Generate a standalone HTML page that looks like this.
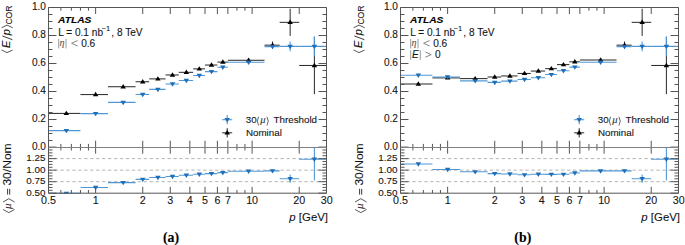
<!DOCTYPE html>
<html><head><meta charset="utf-8"><style>html,body{margin:0;padding:0;background:#fff;width:685px;height:245px;overflow:hidden}svg{display:block}</style></head><body>
<svg width="685" height="245" viewBox="0 0 685 245">
<rect width="685" height="245" fill="#fff"/>
<g transform="translate(0,0)">
<line x1="48.50" y1="158.62" x2="326.50" y2="158.62" stroke="#b4b4b4" stroke-width="1.0" stroke-dasharray="3.3 2.65"/>
<line x1="48.50" y1="170.15" x2="326.50" y2="170.15" stroke="#b4b4b4" stroke-width="1.0" stroke-dasharray="3.3 2.65"/>
<line x1="48.50" y1="181.68" x2="326.50" y2="181.68" stroke="#b4b4b4" stroke-width="1.0" stroke-dasharray="3.3 2.65"/>
<clipPath id="cu0"><rect x="48.5" y="7.5" width="278.0" height="140.0"/></clipPath>
<clipPath id="cl0"><rect x="48.5" y="147.1" width="278.0" height="46.699999999999996"/></clipPath>
<g clip-path="url(#cu0)">
<line x1="48.50" y1="113.40" x2="80.44" y2="113.40" stroke="#262626" stroke-width="1.0"/>
<polygon points="66.33,110.67 63.58,115.07 69.08,115.07" fill="#000"/>
<line x1="80.44" y1="94.58" x2="108.00" y2="94.58" stroke="#262626" stroke-width="1.0"/>
<polygon points="95.61,91.85 92.86,96.25 98.36,96.25" fill="#000"/>
<line x1="108.00" y1="86.74" x2="135.56" y2="86.74" stroke="#262626" stroke-width="1.0"/>
<polygon points="123.17,84.01 120.42,88.41 125.92,88.41" fill="#000"/>
<line x1="135.56" y1="81.76" x2="149.20" y2="81.76" stroke="#262626" stroke-width="1.0"/>
<polygon points="142.72,79.03 139.97,83.43 145.47,83.43" fill="#000"/>
<line x1="149.20" y1="78.90" x2="165.59" y2="78.90" stroke="#262626" stroke-width="1.0"/>
<polygon points="157.89,76.17 155.14,80.57 160.64,80.57" fill="#000"/>
<line x1="165.59" y1="74.98" x2="178.79" y2="74.98" stroke="#262626" stroke-width="1.0"/>
<polygon points="172.51,72.25 169.76,76.65 175.26,76.65" fill="#000"/>
<line x1="178.79" y1="72.32" x2="193.15" y2="72.32" stroke="#262626" stroke-width="1.0"/>
<polygon points="186.35,69.59 183.60,73.99 189.10,73.99" fill="#000"/>
<line x1="193.15" y1="68.88" x2="205.00" y2="68.88" stroke="#262626" stroke-width="1.0"/>
<polygon points="199.33,66.15 196.58,70.55 202.08,70.55" fill="#000"/>
<line x1="205.00" y1="65.04" x2="217.39" y2="65.04" stroke="#262626" stroke-width="1.0"/>
<polygon points="211.48,62.31 208.73,66.71 214.23,66.71" fill="#000"/>
<line x1="217.39" y1="62.10" x2="227.87" y2="62.10" stroke="#262626" stroke-width="1.0"/>
<polygon points="222.83,59.37 220.08,63.77 225.58,63.77" fill="#000"/>
<line x1="227.87" y1="60.28" x2="264.50" y2="60.28" stroke="#262626" stroke-width="1.0"/>
<polygon points="248.62,57.55 245.87,61.95 251.37,61.95" fill="#000"/>
<line x1="264.50" y1="45.16" x2="279.67" y2="45.16" stroke="#262626" stroke-width="1.0"/>
<line x1="272.51" y1="41.52" x2="272.51" y2="48.80" stroke="#262626" stroke-width="1.0"/>
<polygon points="272.51,42.43 269.76,46.83 275.26,46.83" fill="#000"/>
<line x1="279.67" y1="22.34" x2="299.22" y2="22.34" stroke="#262626" stroke-width="1.0"/>
<line x1="290.15" y1="8.76" x2="290.15" y2="35.92" stroke="#262626" stroke-width="1.0"/>
<polygon points="290.15,19.61 287.40,24.01 292.90,24.01" fill="#000"/>
<line x1="299.22" y1="65.46" x2="326.50" y2="65.46" stroke="#262626" stroke-width="1.0"/>
<line x1="314.39" y1="36.76" x2="314.39" y2="94.16" stroke="#262626" stroke-width="1.0"/>
<polygon points="314.39,62.73 311.64,67.13 317.14,67.13" fill="#000"/>
<line x1="48.50" y1="130.59" x2="80.44" y2="130.59" stroke="#4f98d5" stroke-width="1.1"/>
<polygon points="66.33,133.32 63.58,128.92 69.08,128.92" fill="#1f6fb8"/>
<line x1="80.44" y1="113.62" x2="108.00" y2="113.62" stroke="#4f98d5" stroke-width="1.1"/>
<polygon points="95.61,116.35 92.86,111.95 98.36,111.95" fill="#1f6fb8"/>
<line x1="108.00" y1="102.42" x2="135.56" y2="102.42" stroke="#4f98d5" stroke-width="1.1"/>
<polygon points="123.17,105.15 120.42,100.75 125.92,100.75" fill="#1f6fb8"/>
<line x1="135.56" y1="94.44" x2="149.20" y2="94.44" stroke="#4f98d5" stroke-width="1.1"/>
<polygon points="142.72,97.17 139.97,92.77 145.47,92.77" fill="#1f6fb8"/>
<line x1="149.20" y1="89.40" x2="165.59" y2="89.40" stroke="#4f98d5" stroke-width="1.1"/>
<polygon points="157.89,92.13 155.14,87.73 160.64,87.73" fill="#1f6fb8"/>
<line x1="165.59" y1="84.00" x2="178.79" y2="84.00" stroke="#4f98d5" stroke-width="1.1"/>
<polygon points="172.51,86.72 169.76,82.32 175.26,82.32" fill="#1f6fb8"/>
<line x1="178.79" y1="80.44" x2="193.15" y2="80.44" stroke="#4f98d5" stroke-width="1.1"/>
<polygon points="186.35,83.17 183.60,78.77 189.10,78.77" fill="#1f6fb8"/>
<line x1="193.15" y1="75.54" x2="205.00" y2="75.54" stroke="#4f98d5" stroke-width="1.1"/>
<polygon points="199.33,78.27 196.58,73.87 202.08,73.87" fill="#1f6fb8"/>
<line x1="205.00" y1="71.62" x2="217.39" y2="71.62" stroke="#4f98d5" stroke-width="1.1"/>
<polygon points="211.48,74.35 208.73,69.95 214.23,69.95" fill="#1f6fb8"/>
<line x1="217.39" y1="67.20" x2="227.87" y2="67.20" stroke="#4f98d5" stroke-width="1.1"/>
<polygon points="222.83,69.92 220.08,65.52 225.58,65.52" fill="#1f6fb8"/>
<line x1="227.87" y1="62.30" x2="264.50" y2="62.30" stroke="#4f98d5" stroke-width="1.1"/>
<polygon points="248.62,65.02 245.87,60.62 251.37,60.62" fill="#1f6fb8"/>
<line x1="264.50" y1="46.63" x2="279.67" y2="46.63" stroke="#4f98d5" stroke-width="1.1"/>
<line x1="272.51" y1="44.95" x2="272.51" y2="48.31" stroke="#4f98d5" stroke-width="1.1"/>
<polygon points="272.51,49.36 269.76,44.96 275.26,44.96" fill="#1f6fb8"/>
<line x1="279.67" y1="46.42" x2="299.22" y2="46.42" stroke="#4f98d5" stroke-width="1.1"/>
<line x1="290.15" y1="41.52" x2="290.15" y2="51.32" stroke="#4f98d5" stroke-width="1.1"/>
<polygon points="290.15,49.15 287.40,44.75 292.90,44.75" fill="#1f6fb8"/>
<line x1="299.22" y1="46.42" x2="326.50" y2="46.42" stroke="#4f98d5" stroke-width="1.1"/>
<line x1="314.39" y1="36.48" x2="314.39" y2="56.36" stroke="#4f98d5" stroke-width="1.1"/>
<polygon points="314.39,49.15 311.64,44.75 317.14,44.75" fill="#1f6fb8"/>
</g>
<g clip-path="url(#cl0)">
<line x1="48.50" y1="193.39" x2="80.44" y2="193.39" stroke="#4f98d5" stroke-width="1.1"/>
<polygon points="66.33,196.12 63.58,191.72 69.08,191.72" fill="#1f6fb8"/>
<line x1="80.44" y1="187.48" x2="108.00" y2="187.48" stroke="#4f98d5" stroke-width="1.1"/>
<polygon points="95.61,190.21 92.86,185.81 98.36,185.81" fill="#1f6fb8"/>
<line x1="108.00" y1="182.60" x2="135.56" y2="182.60" stroke="#4f98d5" stroke-width="1.1"/>
<polygon points="123.17,185.32 120.42,180.92 125.92,180.92" fill="#1f6fb8"/>
<line x1="135.56" y1="179.37" x2="149.20" y2="179.37" stroke="#4f98d5" stroke-width="1.1"/>
<polygon points="142.72,182.10 139.97,177.70 145.47,177.70" fill="#1f6fb8"/>
<line x1="149.20" y1="177.48" x2="165.59" y2="177.48" stroke="#4f98d5" stroke-width="1.1"/>
<polygon points="157.89,180.21 155.14,175.81 160.64,175.81" fill="#1f6fb8"/>
<line x1="165.59" y1="176.51" x2="178.79" y2="176.51" stroke="#4f98d5" stroke-width="1.1"/>
<polygon points="172.51,179.24 169.76,174.84 175.26,174.84" fill="#1f6fb8"/>
<line x1="178.79" y1="175.22" x2="193.15" y2="175.22" stroke="#4f98d5" stroke-width="1.1"/>
<polygon points="186.35,177.95 183.60,173.55 189.10,173.55" fill="#1f6fb8"/>
<line x1="193.15" y1="174.21" x2="205.00" y2="174.21" stroke="#4f98d5" stroke-width="1.1"/>
<polygon points="199.33,176.93 196.58,172.53 202.08,172.53" fill="#1f6fb8"/>
<line x1="205.00" y1="173.61" x2="217.39" y2="173.61" stroke="#4f98d5" stroke-width="1.1"/>
<polygon points="211.48,176.34 208.73,171.94 214.23,171.94" fill="#1f6fb8"/>
<line x1="217.39" y1="172.59" x2="227.87" y2="172.59" stroke="#4f98d5" stroke-width="1.1"/>
<polygon points="222.83,175.32 220.08,170.92 225.58,170.92" fill="#1f6fb8"/>
<line x1="227.87" y1="171.21" x2="264.50" y2="171.21" stroke="#4f98d5" stroke-width="1.1"/>
<polygon points="248.62,173.94 245.87,169.54 251.37,169.54" fill="#1f6fb8"/>
<line x1="264.50" y1="170.89" x2="279.67" y2="170.89" stroke="#4f98d5" stroke-width="1.1"/>
<line x1="272.51" y1="169.50" x2="272.51" y2="172.27" stroke="#4f98d5" stroke-width="1.1"/>
<polygon points="272.51,173.62 269.76,169.22 275.26,169.22" fill="#1f6fb8"/>
<line x1="279.67" y1="178.68" x2="299.22" y2="178.68" stroke="#4f98d5" stroke-width="1.1"/>
<line x1="290.15" y1="174.58" x2="290.15" y2="182.78" stroke="#4f98d5" stroke-width="1.1"/>
<polygon points="290.15,181.41 287.40,177.01 292.90,177.01" fill="#1f6fb8"/>
<line x1="299.22" y1="159.18" x2="326.50" y2="159.18" stroke="#4f98d5" stroke-width="1.1"/>
<line x1="314.39" y1="137.74" x2="314.39" y2="180.61" stroke="#4f98d5" stroke-width="1.1"/>
<polygon points="314.39,161.91 311.64,157.51 317.14,157.51" fill="#1f6fb8"/>
</g>
<line x1="48.50" y1="147.50" x2="56.50" y2="147.50" stroke="#555555" stroke-width="1.0"/>
<line x1="318.50" y1="147.50" x2="326.50" y2="147.50" stroke="#555555" stroke-width="1.0"/>
<line x1="48.50" y1="140.50" x2="52.50" y2="140.50" stroke="#555555" stroke-width="1.0"/>
<line x1="322.50" y1="140.50" x2="326.50" y2="140.50" stroke="#555555" stroke-width="1.0"/>
<line x1="48.50" y1="133.50" x2="52.50" y2="133.50" stroke="#555555" stroke-width="1.0"/>
<line x1="322.50" y1="133.50" x2="326.50" y2="133.50" stroke="#555555" stroke-width="1.0"/>
<line x1="48.50" y1="126.50" x2="52.50" y2="126.50" stroke="#555555" stroke-width="1.0"/>
<line x1="322.50" y1="126.50" x2="326.50" y2="126.50" stroke="#555555" stroke-width="1.0"/>
<line x1="48.50" y1="119.50" x2="56.50" y2="119.50" stroke="#555555" stroke-width="1.0"/>
<line x1="318.50" y1="119.50" x2="326.50" y2="119.50" stroke="#555555" stroke-width="1.0"/>
<line x1="48.50" y1="112.50" x2="52.50" y2="112.50" stroke="#555555" stroke-width="1.0"/>
<line x1="322.50" y1="112.50" x2="326.50" y2="112.50" stroke="#555555" stroke-width="1.0"/>
<line x1="48.50" y1="105.50" x2="52.50" y2="105.50" stroke="#555555" stroke-width="1.0"/>
<line x1="322.50" y1="105.50" x2="326.50" y2="105.50" stroke="#555555" stroke-width="1.0"/>
<line x1="48.50" y1="98.50" x2="52.50" y2="98.50" stroke="#555555" stroke-width="1.0"/>
<line x1="322.50" y1="98.50" x2="326.50" y2="98.50" stroke="#555555" stroke-width="1.0"/>
<line x1="48.50" y1="91.50" x2="56.50" y2="91.50" stroke="#555555" stroke-width="1.0"/>
<line x1="318.50" y1="91.50" x2="326.50" y2="91.50" stroke="#555555" stroke-width="1.0"/>
<line x1="48.50" y1="84.50" x2="52.50" y2="84.50" stroke="#555555" stroke-width="1.0"/>
<line x1="322.50" y1="84.50" x2="326.50" y2="84.50" stroke="#555555" stroke-width="1.0"/>
<line x1="48.50" y1="77.50" x2="52.50" y2="77.50" stroke="#555555" stroke-width="1.0"/>
<line x1="322.50" y1="77.50" x2="326.50" y2="77.50" stroke="#555555" stroke-width="1.0"/>
<line x1="48.50" y1="70.50" x2="52.50" y2="70.50" stroke="#555555" stroke-width="1.0"/>
<line x1="322.50" y1="70.50" x2="326.50" y2="70.50" stroke="#555555" stroke-width="1.0"/>
<line x1="48.50" y1="63.50" x2="56.50" y2="63.50" stroke="#555555" stroke-width="1.0"/>
<line x1="318.50" y1="63.50" x2="326.50" y2="63.50" stroke="#555555" stroke-width="1.0"/>
<line x1="48.50" y1="56.50" x2="52.50" y2="56.50" stroke="#555555" stroke-width="1.0"/>
<line x1="322.50" y1="56.50" x2="326.50" y2="56.50" stroke="#555555" stroke-width="1.0"/>
<line x1="48.50" y1="49.50" x2="52.50" y2="49.50" stroke="#555555" stroke-width="1.0"/>
<line x1="322.50" y1="49.50" x2="326.50" y2="49.50" stroke="#555555" stroke-width="1.0"/>
<line x1="48.50" y1="42.50" x2="52.50" y2="42.50" stroke="#555555" stroke-width="1.0"/>
<line x1="322.50" y1="42.50" x2="326.50" y2="42.50" stroke="#555555" stroke-width="1.0"/>
<line x1="48.50" y1="35.50" x2="56.50" y2="35.50" stroke="#555555" stroke-width="1.0"/>
<line x1="318.50" y1="35.50" x2="326.50" y2="35.50" stroke="#555555" stroke-width="1.0"/>
<line x1="48.50" y1="28.50" x2="52.50" y2="28.50" stroke="#555555" stroke-width="1.0"/>
<line x1="322.50" y1="28.50" x2="326.50" y2="28.50" stroke="#555555" stroke-width="1.0"/>
<line x1="48.50" y1="21.50" x2="52.50" y2="21.50" stroke="#555555" stroke-width="1.0"/>
<line x1="322.50" y1="21.50" x2="326.50" y2="21.50" stroke="#555555" stroke-width="1.0"/>
<line x1="48.50" y1="14.50" x2="52.50" y2="14.50" stroke="#555555" stroke-width="1.0"/>
<line x1="322.50" y1="14.50" x2="326.50" y2="14.50" stroke="#555555" stroke-width="1.0"/>
<line x1="48.50" y1="7.50" x2="56.50" y2="7.50" stroke="#555555" stroke-width="1.0"/>
<line x1="318.50" y1="7.50" x2="326.50" y2="7.50" stroke="#555555" stroke-width="1.0"/>
<line x1="95.61" y1="7.50" x2="95.61" y2="14.00" stroke="#555555" stroke-width="1.0"/>
<line x1="95.61" y1="140.70" x2="95.61" y2="147.50" stroke="#555555" stroke-width="1.0"/>
<line x1="95.61" y1="147.10" x2="95.61" y2="153.70" stroke="#555555" stroke-width="1.0"/>
<line x1="95.61" y1="186.80" x2="95.61" y2="193.20" stroke="#555555" stroke-width="1.0"/>
<line x1="142.72" y1="7.50" x2="142.72" y2="14.00" stroke="#555555" stroke-width="1.0"/>
<line x1="142.72" y1="140.70" x2="142.72" y2="147.50" stroke="#555555" stroke-width="1.0"/>
<line x1="142.72" y1="147.10" x2="142.72" y2="153.70" stroke="#555555" stroke-width="1.0"/>
<line x1="142.72" y1="186.80" x2="142.72" y2="193.20" stroke="#555555" stroke-width="1.0"/>
<line x1="170.28" y1="7.50" x2="170.28" y2="14.00" stroke="#555555" stroke-width="1.0"/>
<line x1="170.28" y1="140.70" x2="170.28" y2="147.50" stroke="#555555" stroke-width="1.0"/>
<line x1="170.28" y1="147.10" x2="170.28" y2="153.70" stroke="#555555" stroke-width="1.0"/>
<line x1="170.28" y1="186.80" x2="170.28" y2="193.20" stroke="#555555" stroke-width="1.0"/>
<line x1="189.83" y1="7.50" x2="189.83" y2="14.00" stroke="#555555" stroke-width="1.0"/>
<line x1="189.83" y1="140.70" x2="189.83" y2="147.50" stroke="#555555" stroke-width="1.0"/>
<line x1="189.83" y1="147.10" x2="189.83" y2="153.70" stroke="#555555" stroke-width="1.0"/>
<line x1="189.83" y1="186.80" x2="189.83" y2="193.20" stroke="#555555" stroke-width="1.0"/>
<line x1="205.00" y1="7.50" x2="205.00" y2="14.00" stroke="#555555" stroke-width="1.0"/>
<line x1="205.00" y1="140.70" x2="205.00" y2="147.50" stroke="#555555" stroke-width="1.0"/>
<line x1="205.00" y1="147.10" x2="205.00" y2="153.70" stroke="#555555" stroke-width="1.0"/>
<line x1="205.00" y1="186.80" x2="205.00" y2="193.20" stroke="#555555" stroke-width="1.0"/>
<line x1="217.39" y1="7.50" x2="217.39" y2="14.00" stroke="#555555" stroke-width="1.0"/>
<line x1="217.39" y1="140.70" x2="217.39" y2="147.50" stroke="#555555" stroke-width="1.0"/>
<line x1="217.39" y1="147.10" x2="217.39" y2="153.70" stroke="#555555" stroke-width="1.0"/>
<line x1="217.39" y1="186.80" x2="217.39" y2="193.20" stroke="#555555" stroke-width="1.0"/>
<line x1="227.87" y1="7.50" x2="227.87" y2="14.00" stroke="#555555" stroke-width="1.0"/>
<line x1="227.87" y1="140.70" x2="227.87" y2="147.50" stroke="#555555" stroke-width="1.0"/>
<line x1="227.87" y1="147.10" x2="227.87" y2="153.70" stroke="#555555" stroke-width="1.0"/>
<line x1="227.87" y1="186.80" x2="227.87" y2="193.20" stroke="#555555" stroke-width="1.0"/>
<line x1="252.11" y1="7.50" x2="252.11" y2="14.00" stroke="#555555" stroke-width="1.0"/>
<line x1="252.11" y1="140.70" x2="252.11" y2="147.50" stroke="#555555" stroke-width="1.0"/>
<line x1="252.11" y1="147.10" x2="252.11" y2="153.70" stroke="#555555" stroke-width="1.0"/>
<line x1="252.11" y1="186.80" x2="252.11" y2="193.20" stroke="#555555" stroke-width="1.0"/>
<line x1="299.22" y1="7.50" x2="299.22" y2="14.00" stroke="#555555" stroke-width="1.0"/>
<line x1="299.22" y1="140.70" x2="299.22" y2="147.50" stroke="#555555" stroke-width="1.0"/>
<line x1="299.22" y1="147.10" x2="299.22" y2="153.70" stroke="#555555" stroke-width="1.0"/>
<line x1="299.22" y1="186.80" x2="299.22" y2="193.20" stroke="#555555" stroke-width="1.0"/>
<line x1="60.89" y1="7.50" x2="60.89" y2="10.70" stroke="#555555" stroke-width="1.0"/>
<line x1="60.89" y1="143.90" x2="60.89" y2="147.50" stroke="#555555" stroke-width="1.0"/>
<line x1="60.89" y1="147.10" x2="60.89" y2="150.50" stroke="#555555" stroke-width="1.0"/>
<line x1="60.89" y1="190.00" x2="60.89" y2="193.20" stroke="#555555" stroke-width="1.0"/>
<line x1="71.37" y1="7.50" x2="71.37" y2="10.70" stroke="#555555" stroke-width="1.0"/>
<line x1="71.37" y1="143.90" x2="71.37" y2="147.50" stroke="#555555" stroke-width="1.0"/>
<line x1="71.37" y1="147.10" x2="71.37" y2="150.50" stroke="#555555" stroke-width="1.0"/>
<line x1="71.37" y1="190.00" x2="71.37" y2="193.20" stroke="#555555" stroke-width="1.0"/>
<line x1="80.44" y1="7.50" x2="80.44" y2="10.70" stroke="#555555" stroke-width="1.0"/>
<line x1="80.44" y1="143.90" x2="80.44" y2="147.50" stroke="#555555" stroke-width="1.0"/>
<line x1="80.44" y1="147.10" x2="80.44" y2="150.50" stroke="#555555" stroke-width="1.0"/>
<line x1="80.44" y1="190.00" x2="80.44" y2="193.20" stroke="#555555" stroke-width="1.0"/>
<line x1="88.45" y1="7.50" x2="88.45" y2="10.70" stroke="#555555" stroke-width="1.0"/>
<line x1="88.45" y1="143.90" x2="88.45" y2="147.50" stroke="#555555" stroke-width="1.0"/>
<line x1="88.45" y1="147.10" x2="88.45" y2="150.50" stroke="#555555" stroke-width="1.0"/>
<line x1="88.45" y1="190.00" x2="88.45" y2="193.20" stroke="#555555" stroke-width="1.0"/>
<line x1="236.94" y1="7.50" x2="236.94" y2="10.70" stroke="#555555" stroke-width="1.0"/>
<line x1="236.94" y1="143.90" x2="236.94" y2="147.50" stroke="#555555" stroke-width="1.0"/>
<line x1="236.94" y1="147.10" x2="236.94" y2="150.50" stroke="#555555" stroke-width="1.0"/>
<line x1="236.94" y1="190.00" x2="236.94" y2="193.20" stroke="#555555" stroke-width="1.0"/>
<line x1="244.95" y1="7.50" x2="244.95" y2="10.70" stroke="#555555" stroke-width="1.0"/>
<line x1="244.95" y1="143.90" x2="244.95" y2="147.50" stroke="#555555" stroke-width="1.0"/>
<line x1="244.95" y1="147.10" x2="244.95" y2="150.50" stroke="#555555" stroke-width="1.0"/>
<line x1="244.95" y1="190.00" x2="244.95" y2="193.20" stroke="#555555" stroke-width="1.0"/>
<line x1="48.50" y1="193.20" x2="56.50" y2="193.20" stroke="#555555" stroke-width="1.0"/>
<line x1="318.50" y1="193.20" x2="326.50" y2="193.20" stroke="#555555" stroke-width="1.0"/>
<line x1="48.50" y1="190.32" x2="52.50" y2="190.32" stroke="#555555" stroke-width="1.0"/>
<line x1="322.50" y1="190.32" x2="326.50" y2="190.32" stroke="#555555" stroke-width="1.0"/>
<line x1="48.50" y1="187.44" x2="52.50" y2="187.44" stroke="#555555" stroke-width="1.0"/>
<line x1="322.50" y1="187.44" x2="326.50" y2="187.44" stroke="#555555" stroke-width="1.0"/>
<line x1="48.50" y1="184.56" x2="52.50" y2="184.56" stroke="#555555" stroke-width="1.0"/>
<line x1="322.50" y1="184.56" x2="326.50" y2="184.56" stroke="#555555" stroke-width="1.0"/>
<line x1="48.50" y1="181.68" x2="56.50" y2="181.68" stroke="#555555" stroke-width="1.0"/>
<line x1="318.50" y1="181.68" x2="326.50" y2="181.68" stroke="#555555" stroke-width="1.0"/>
<line x1="48.50" y1="178.79" x2="52.50" y2="178.79" stroke="#555555" stroke-width="1.0"/>
<line x1="322.50" y1="178.79" x2="326.50" y2="178.79" stroke="#555555" stroke-width="1.0"/>
<line x1="48.50" y1="175.91" x2="52.50" y2="175.91" stroke="#555555" stroke-width="1.0"/>
<line x1="322.50" y1="175.91" x2="326.50" y2="175.91" stroke="#555555" stroke-width="1.0"/>
<line x1="48.50" y1="173.03" x2="52.50" y2="173.03" stroke="#555555" stroke-width="1.0"/>
<line x1="322.50" y1="173.03" x2="326.50" y2="173.03" stroke="#555555" stroke-width="1.0"/>
<line x1="48.50" y1="170.15" x2="56.50" y2="170.15" stroke="#555555" stroke-width="1.0"/>
<line x1="318.50" y1="170.15" x2="326.50" y2="170.15" stroke="#555555" stroke-width="1.0"/>
<line x1="48.50" y1="167.27" x2="52.50" y2="167.27" stroke="#555555" stroke-width="1.0"/>
<line x1="322.50" y1="167.27" x2="326.50" y2="167.27" stroke="#555555" stroke-width="1.0"/>
<line x1="48.50" y1="164.39" x2="52.50" y2="164.39" stroke="#555555" stroke-width="1.0"/>
<line x1="322.50" y1="164.39" x2="326.50" y2="164.39" stroke="#555555" stroke-width="1.0"/>
<line x1="48.50" y1="161.51" x2="52.50" y2="161.51" stroke="#555555" stroke-width="1.0"/>
<line x1="322.50" y1="161.51" x2="326.50" y2="161.51" stroke="#555555" stroke-width="1.0"/>
<line x1="48.50" y1="158.62" x2="56.50" y2="158.62" stroke="#555555" stroke-width="1.0"/>
<line x1="318.50" y1="158.62" x2="326.50" y2="158.62" stroke="#555555" stroke-width="1.0"/>
<line x1="48.50" y1="155.74" x2="52.50" y2="155.74" stroke="#555555" stroke-width="1.0"/>
<line x1="322.50" y1="155.74" x2="326.50" y2="155.74" stroke="#555555" stroke-width="1.0"/>
<line x1="48.50" y1="152.86" x2="52.50" y2="152.86" stroke="#555555" stroke-width="1.0"/>
<line x1="322.50" y1="152.86" x2="326.50" y2="152.86" stroke="#555555" stroke-width="1.0"/>
<line x1="48.50" y1="149.98" x2="52.50" y2="149.98" stroke="#555555" stroke-width="1.0"/>
<line x1="322.50" y1="149.98" x2="326.50" y2="149.98" stroke="#555555" stroke-width="1.0"/>
<line x1="48.50" y1="147.10" x2="56.50" y2="147.10" stroke="#555555" stroke-width="1.0"/>
<line x1="318.50" y1="147.10" x2="326.50" y2="147.10" stroke="#555555" stroke-width="1.0"/>
<polyline points="48.5,147.5 48.5,7.5 326.5,7.5 326.5,147.5" fill="none" stroke="#555555" stroke-width="1"/>
<line x1="48.50" y1="147.50" x2="326.50" y2="147.50" stroke="#808080" stroke-width="1.0"/>
<polyline points="48.5,147.5 48.5,193.2 326.5,193.2 326.5,147.5" fill="none" stroke="#555555" stroke-width="1"/>
<text x="46.0" y="150.10" font-family="Liberation Sans, sans-serif" font-size="10.1" text-anchor="end" fill="#151515" stroke="#151515" stroke-width="0.1">0.0</text>
<text x="46.0" y="122.10" font-family="Liberation Sans, sans-serif" font-size="10.1" text-anchor="end" fill="#151515" stroke="#151515" stroke-width="0.1">0.2</text>
<text x="46.0" y="94.10" font-family="Liberation Sans, sans-serif" font-size="10.1" text-anchor="end" fill="#151515" stroke="#151515" stroke-width="0.1">0.4</text>
<text x="46.0" y="66.10" font-family="Liberation Sans, sans-serif" font-size="10.1" text-anchor="end" fill="#151515" stroke="#151515" stroke-width="0.1">0.6</text>
<text x="46.0" y="38.10" font-family="Liberation Sans, sans-serif" font-size="10.1" text-anchor="end" fill="#151515" stroke="#151515" stroke-width="0.1">0.8</text>
<text x="46.0" y="10.10" font-family="Liberation Sans, sans-serif" font-size="10.1" text-anchor="end" fill="#151515" stroke="#151515" stroke-width="0.1">1.0</text>
<text x="45.5" y="161.12" font-family="Liberation Sans, sans-serif" font-size="9.9" text-anchor="end" fill="#151515" stroke="#151515" stroke-width="0.1">1.25</text>
<text x="45.5" y="172.65" font-family="Liberation Sans, sans-serif" font-size="9.9" text-anchor="end" fill="#151515" stroke="#151515" stroke-width="0.1">1.00</text>
<text x="45.5" y="184.18" font-family="Liberation Sans, sans-serif" font-size="9.9" text-anchor="end" fill="#151515" stroke="#151515" stroke-width="0.1">0.75</text>
<text x="45.5" y="195.70" font-family="Liberation Sans, sans-serif" font-size="9.9" text-anchor="end" fill="#151515" stroke="#151515" stroke-width="0.1">0.50</text>
<text x="48.50" y="203.7" font-family="Liberation Sans, sans-serif" font-size="10.7" text-anchor="middle" fill="#151515" stroke="#151515" stroke-width="0.1">0.5</text>
<text x="95.61" y="203.7" font-family="Liberation Sans, sans-serif" font-size="10.7" text-anchor="middle" fill="#151515" stroke="#151515" stroke-width="0.1">1</text>
<text x="142.72" y="203.7" font-family="Liberation Sans, sans-serif" font-size="10.7" text-anchor="middle" fill="#151515" stroke="#151515" stroke-width="0.1">2</text>
<text x="170.28" y="203.7" font-family="Liberation Sans, sans-serif" font-size="10.7" text-anchor="middle" fill="#151515" stroke="#151515" stroke-width="0.1">3</text>
<text x="189.83" y="203.7" font-family="Liberation Sans, sans-serif" font-size="10.7" text-anchor="middle" fill="#151515" stroke="#151515" stroke-width="0.1">4</text>
<text x="205.00" y="203.7" font-family="Liberation Sans, sans-serif" font-size="10.7" text-anchor="middle" fill="#151515" stroke="#151515" stroke-width="0.1">5</text>
<text x="217.39" y="203.7" font-family="Liberation Sans, sans-serif" font-size="10.7" text-anchor="middle" fill="#151515" stroke="#151515" stroke-width="0.1">6</text>
<text x="227.87" y="203.7" font-family="Liberation Sans, sans-serif" font-size="10.7" text-anchor="middle" fill="#151515" stroke="#151515" stroke-width="0.1">7</text>
<text x="252.11" y="203.7" font-family="Liberation Sans, sans-serif" font-size="10.7" text-anchor="middle" fill="#151515" stroke="#151515" stroke-width="0.1">10</text>
<text x="299.22" y="203.7" font-family="Liberation Sans, sans-serif" font-size="10.7" text-anchor="middle" fill="#151515" stroke="#151515" stroke-width="0.1">20</text>
<text x="326.78" y="203.7" font-family="Liberation Sans, sans-serif" font-size="10.7" text-anchor="middle" fill="#151515" stroke="#151515" stroke-width="0.1">30</text>
<text x="328.0" y="221.0" font-family="Liberation Sans, sans-serif" font-size="11.4" text-anchor="end" fill="#151515" stroke="#151515" stroke-width="0.1"><tspan font-style="italic">p</tspan> [GeV]</text>
<text transform="translate(58.1,22.9) scale(1.08,1)" font-family="Liberation Sans, sans-serif" font-size="9.45" font-weight="bold" font-style="italic" fill="#000" stroke="#000" stroke-width="0.1">ATLAS</text>
<text x="58.2" y="35.6" font-family="Liberation Sans, sans-serif" font-size="10.1" fill="#151515" stroke="#151515" stroke-width="0.1">L = 0.1 nb</text>
<text x="101.5" y="31.2" font-family="Liberation Sans, sans-serif" font-size="7.6" fill="#151515" stroke="#151515" stroke-width="0.1">&#8722;1</text>
<text x="111.3" y="35.6" font-family="Liberation Sans, sans-serif" font-size="10.1" fill="#151515" stroke="#151515" stroke-width="0.1">, 8 TeV</text>
<line x1="58.70" y1="38.90" x2="58.70" y2="48.40" stroke="#7a7a7a" stroke-width="0.75"/>
<text x="59.4" y="46.4" font-family="Liberation Serif, serif" font-style="italic" font-size="10" fill="#555" stroke="#555" stroke-width="0.1">&#951;</text>
<line x1="66.00" y1="38.90" x2="66.00" y2="48.40" stroke="#7a7a7a" stroke-width="0.75"/>
<polyline points="77.60,40.60 71.60,43.30 77.60,46.00" fill="none" stroke="#666" stroke-width="0.8" stroke-linejoin="miter"/>
<text x="81.2" y="46.5" font-family="Liberation Sans, sans-serif" font-size="10.1" fill="#151515" stroke="#151515" stroke-width="0.1">0.6</text>
<line x1="222.20" y1="119.70" x2="232.20" y2="119.70" stroke="#4f98d5" stroke-width="1.1"/>
<line x1="227.20" y1="115.10" x2="227.20" y2="124.30" stroke="#4f98d5" stroke-width="1.1"/>
<polygon points="227.20,122.43 224.45,118.03 229.95,118.03" fill="#1f6fb8"/>
<line x1="222.20" y1="132.80" x2="232.20" y2="132.80" stroke="#262626" stroke-width="1.0"/>
<line x1="227.20" y1="128.20" x2="227.20" y2="137.40" stroke="#262626" stroke-width="1.0"/>
<polygon points="227.20,130.07 224.45,134.47 229.95,134.47" fill="#000"/>
<text x="245.7" y="123.1" font-family="Liberation Sans, sans-serif" font-size="9.8" fill="#151515" stroke="#151515" stroke-width="0.1">30</text>
<path d="M258.6,116.7 Q256.0,121.1 258.6,125.5" fill="none" stroke="#555" stroke-width="0.9"/>
<text x="260.2" y="123.2" font-family="Liberation Serif, serif" font-style="italic" font-size="10.6" fill="#333" stroke="#333" stroke-width="0.1">&#956;</text>
<path d="M266.9,116.7 Q269.7,121.1 266.9,125.5" fill="none" stroke="#555" stroke-width="0.9"/>
<text x="273.5" y="123.1" font-family="Liberation Sans, sans-serif" font-size="9.8" fill="#151515" stroke="#151515" stroke-width="0.1">Threshold</text>
<text x="245.9" y="136.2" font-family="Liberation Sans, sans-serif" font-size="9.8" fill="#151515" stroke="#151515" stroke-width="0.1">Nominal</text>
<polyline points="1.60,50.00 7.00,52.60 12.60,50.10" fill="none" stroke="#444" stroke-width="0.9" stroke-linejoin="miter"/>
<text transform="translate(10.10,47.90) rotate(-90)" font-family="Liberation Sans, sans-serif" font-size="11.0" text-anchor="start" fill="#111" font-style="italic" stroke="#111" stroke-width="0.1">E</text>
<line x1="2.30" y1="35.90" x2="12.40" y2="39.70" stroke="#222" stroke-width="0.9"/>
<text transform="translate(10.40,35.30) rotate(-90)" font-family="Liberation Sans, sans-serif" font-size="11.2" text-anchor="start" fill="#111" font-style="italic" stroke="#111" stroke-width="0.1">p</text>
<polyline points="1.60,27.70 7.00,25.10 12.60,27.70" fill="none" stroke="#444" stroke-width="0.9" stroke-linejoin="miter"/>
<text transform="translate(12.30,5.50) rotate(-90)" font-family="Liberation Sans, sans-serif" font-size="8.6" text-anchor="end" fill="#111"  stroke="#111" stroke-width="0.1">COR</text>
<polyline points="3.10,209.50 8.80,212.60 14.50,209.50" fill="none" stroke="#444" stroke-width="0.9" stroke-linejoin="miter"/>
<text transform="translate(10.8,209.0) rotate(-90)" font-family="Liberation Serif, serif" font-style="italic" font-size="11" fill="#333" stroke="#333" stroke-width="0.1">&#956;</text>
<polyline points="3.10,202.00 8.80,198.70 14.50,202.00" fill="none" stroke="#444" stroke-width="0.9" stroke-linejoin="miter"/>
<line x1="7.60" y1="188.80" x2="7.60" y2="194.60" stroke="#222" stroke-width="0.9"/>
<line x1="9.70" y1="188.80" x2="9.70" y2="194.60" stroke="#222" stroke-width="0.9"/>
<text transform="translate(11.4,185.6) rotate(-90) scale(1.07,1)" font-family="Liberation Sans, sans-serif" font-size="11.3" fill="#111" stroke="#111" stroke-width="0.1">30/Nom</text>
</g>
<g transform="translate(352,0)">
<line x1="48.50" y1="158.62" x2="326.50" y2="158.62" stroke="#b4b4b4" stroke-width="1.0" stroke-dasharray="3.3 2.65"/>
<line x1="48.50" y1="170.15" x2="326.50" y2="170.15" stroke="#b4b4b4" stroke-width="1.0" stroke-dasharray="3.3 2.65"/>
<line x1="48.50" y1="181.68" x2="326.50" y2="181.68" stroke="#b4b4b4" stroke-width="1.0" stroke-dasharray="3.3 2.65"/>
<clipPath id="cu1"><rect x="48.5" y="7.5" width="278.0" height="140.0"/></clipPath>
<clipPath id="cl1"><rect x="48.5" y="147.1" width="278.0" height="46.699999999999996"/></clipPath>
<g clip-path="url(#cu1)">
<line x1="48.50" y1="84.00" x2="80.44" y2="84.00" stroke="#262626" stroke-width="1.0"/>
<polygon points="66.33,81.27 63.58,85.67 69.08,85.67" fill="#000"/>
<line x1="80.44" y1="77.92" x2="108.00" y2="77.92" stroke="#262626" stroke-width="1.0"/>
<polygon points="95.61,75.19 92.86,79.59 98.36,79.59" fill="#000"/>
<line x1="108.00" y1="78.62" x2="135.56" y2="78.62" stroke="#262626" stroke-width="1.0"/>
<polygon points="123.17,75.89 120.42,80.29 125.92,80.29" fill="#000"/>
<line x1="135.56" y1="77.00" x2="149.20" y2="77.00" stroke="#262626" stroke-width="1.0"/>
<polygon points="142.72,74.27 139.97,78.67 145.47,78.67" fill="#000"/>
<line x1="149.20" y1="75.96" x2="165.59" y2="75.96" stroke="#262626" stroke-width="1.0"/>
<polygon points="157.89,73.23 155.14,77.63 160.64,77.63" fill="#000"/>
<line x1="165.59" y1="73.44" x2="178.79" y2="73.44" stroke="#262626" stroke-width="1.0"/>
<polygon points="172.51,70.71 169.76,75.11 175.26,75.11" fill="#000"/>
<line x1="178.79" y1="71.06" x2="193.15" y2="71.06" stroke="#262626" stroke-width="1.0"/>
<polygon points="186.35,68.33 183.60,72.73 189.10,72.73" fill="#000"/>
<line x1="193.15" y1="68.68" x2="205.00" y2="68.68" stroke="#262626" stroke-width="1.0"/>
<polygon points="199.33,65.95 196.58,70.35 202.08,70.35" fill="#000"/>
<line x1="205.00" y1="64.62" x2="217.39" y2="64.62" stroke="#262626" stroke-width="1.0"/>
<polygon points="211.48,61.89 208.73,66.29 214.23,66.29" fill="#000"/>
<line x1="217.39" y1="61.82" x2="227.87" y2="61.82" stroke="#262626" stroke-width="1.0"/>
<polygon points="222.83,59.09 220.08,63.49 225.58,63.49" fill="#000"/>
<line x1="227.87" y1="60.00" x2="264.50" y2="60.00" stroke="#262626" stroke-width="1.0"/>
<polygon points="248.62,57.27 245.87,61.67 251.37,61.67" fill="#000"/>
<line x1="264.50" y1="45.16" x2="279.67" y2="45.16" stroke="#262626" stroke-width="1.0"/>
<line x1="272.51" y1="41.52" x2="272.51" y2="48.80" stroke="#262626" stroke-width="1.0"/>
<polygon points="272.51,42.43 269.76,46.83 275.26,46.83" fill="#000"/>
<line x1="279.67" y1="22.34" x2="299.22" y2="22.34" stroke="#262626" stroke-width="1.0"/>
<line x1="290.15" y1="8.76" x2="290.15" y2="35.92" stroke="#262626" stroke-width="1.0"/>
<polygon points="290.15,19.61 287.40,24.01 292.90,24.01" fill="#000"/>
<line x1="299.22" y1="65.46" x2="326.50" y2="65.46" stroke="#262626" stroke-width="1.0"/>
<line x1="314.39" y1="36.76" x2="314.39" y2="94.16" stroke="#262626" stroke-width="1.0"/>
<polygon points="314.39,62.73 311.64,67.13 317.14,67.13" fill="#000"/>
<line x1="48.50" y1="75.26" x2="80.44" y2="75.26" stroke="#4f98d5" stroke-width="1.1"/>
<polygon points="66.33,77.99 63.58,73.59 69.08,73.59" fill="#1f6fb8"/>
<line x1="80.44" y1="76.94" x2="108.00" y2="76.94" stroke="#4f98d5" stroke-width="1.1"/>
<polygon points="95.61,79.67 92.86,75.27 98.36,75.27" fill="#1f6fb8"/>
<line x1="108.00" y1="80.86" x2="135.56" y2="80.86" stroke="#4f98d5" stroke-width="1.1"/>
<polygon points="123.17,83.59 120.42,79.19 125.92,79.19" fill="#1f6fb8"/>
<line x1="135.56" y1="82.40" x2="149.20" y2="82.40" stroke="#4f98d5" stroke-width="1.1"/>
<polygon points="142.72,85.13 139.97,80.73 145.47,80.73" fill="#1f6fb8"/>
<line x1="149.20" y1="81.14" x2="165.59" y2="81.14" stroke="#4f98d5" stroke-width="1.1"/>
<polygon points="157.89,83.87 155.14,79.47 160.64,79.47" fill="#1f6fb8"/>
<line x1="165.59" y1="79.46" x2="178.79" y2="79.46" stroke="#4f98d5" stroke-width="1.1"/>
<polygon points="172.51,82.19 169.76,77.79 175.26,77.79" fill="#1f6fb8"/>
<line x1="178.79" y1="77.70" x2="193.15" y2="77.70" stroke="#4f98d5" stroke-width="1.1"/>
<polygon points="186.35,80.42 183.60,76.02 189.10,76.02" fill="#1f6fb8"/>
<line x1="193.15" y1="74.56" x2="205.00" y2="74.56" stroke="#4f98d5" stroke-width="1.1"/>
<polygon points="199.33,77.29 196.58,72.89 202.08,72.89" fill="#1f6fb8"/>
<line x1="205.00" y1="70.70" x2="217.39" y2="70.70" stroke="#4f98d5" stroke-width="1.1"/>
<polygon points="211.48,73.42 208.73,69.02 214.23,69.02" fill="#1f6fb8"/>
<line x1="217.39" y1="67.14" x2="227.87" y2="67.14" stroke="#4f98d5" stroke-width="1.1"/>
<polygon points="222.83,69.87 220.08,65.47 225.58,65.47" fill="#1f6fb8"/>
<line x1="227.87" y1="62.24" x2="264.50" y2="62.24" stroke="#4f98d5" stroke-width="1.1"/>
<polygon points="248.62,64.97 245.87,60.57 251.37,60.57" fill="#1f6fb8"/>
<line x1="264.50" y1="46.63" x2="279.67" y2="46.63" stroke="#4f98d5" stroke-width="1.1"/>
<line x1="272.51" y1="44.95" x2="272.51" y2="48.31" stroke="#4f98d5" stroke-width="1.1"/>
<polygon points="272.51,49.36 269.76,44.96 275.26,44.96" fill="#1f6fb8"/>
<line x1="279.67" y1="46.42" x2="299.22" y2="46.42" stroke="#4f98d5" stroke-width="1.1"/>
<line x1="290.15" y1="41.52" x2="290.15" y2="51.32" stroke="#4f98d5" stroke-width="1.1"/>
<polygon points="290.15,49.15 287.40,44.75 292.90,44.75" fill="#1f6fb8"/>
<line x1="299.22" y1="46.42" x2="326.50" y2="46.42" stroke="#4f98d5" stroke-width="1.1"/>
<line x1="314.39" y1="36.48" x2="314.39" y2="56.36" stroke="#4f98d5" stroke-width="1.1"/>
<polygon points="314.39,49.15 311.64,44.75 317.14,44.75" fill="#1f6fb8"/>
</g>
<g clip-path="url(#cl1)">
<line x1="48.50" y1="164.00" x2="80.44" y2="164.00" stroke="#4f98d5" stroke-width="1.1"/>
<polygon points="66.33,166.73 63.58,162.33 69.08,162.33" fill="#1f6fb8"/>
<line x1="80.44" y1="169.50" x2="108.00" y2="169.50" stroke="#4f98d5" stroke-width="1.1"/>
<polygon points="95.61,172.23 92.86,167.83 98.36,167.83" fill="#1f6fb8"/>
<line x1="108.00" y1="171.81" x2="135.56" y2="171.81" stroke="#4f98d5" stroke-width="1.1"/>
<polygon points="123.17,174.54 120.42,170.14 125.92,170.14" fill="#1f6fb8"/>
<line x1="135.56" y1="173.61" x2="149.20" y2="173.61" stroke="#4f98d5" stroke-width="1.1"/>
<polygon points="142.72,176.34 139.97,171.94 145.47,171.94" fill="#1f6fb8"/>
<line x1="149.20" y1="174.00" x2="165.59" y2="174.00" stroke="#4f98d5" stroke-width="1.1"/>
<polygon points="157.89,176.73 155.14,172.33 160.64,172.33" fill="#1f6fb8"/>
<line x1="165.59" y1="174.81" x2="178.79" y2="174.81" stroke="#4f98d5" stroke-width="1.1"/>
<polygon points="172.51,177.53 169.76,173.13 175.26,173.13" fill="#1f6fb8"/>
<line x1="178.79" y1="174.21" x2="193.15" y2="174.21" stroke="#4f98d5" stroke-width="1.1"/>
<polygon points="186.35,176.93 183.60,172.53 189.10,172.53" fill="#1f6fb8"/>
<line x1="193.15" y1="174.39" x2="205.00" y2="174.39" stroke="#4f98d5" stroke-width="1.1"/>
<polygon points="199.33,177.12 196.58,172.72 202.08,172.72" fill="#1f6fb8"/>
<line x1="205.00" y1="174.30" x2="217.39" y2="174.30" stroke="#4f98d5" stroke-width="1.1"/>
<polygon points="211.48,177.03 208.73,172.63 214.23,172.63" fill="#1f6fb8"/>
<line x1="217.39" y1="173.01" x2="227.87" y2="173.01" stroke="#4f98d5" stroke-width="1.1"/>
<polygon points="222.83,175.74 220.08,171.34 225.58,171.34" fill="#1f6fb8"/>
<line x1="227.87" y1="170.91" x2="264.50" y2="170.91" stroke="#4f98d5" stroke-width="1.1"/>
<polygon points="248.62,173.63 245.87,169.23 251.37,169.23" fill="#1f6fb8"/>
<line x1="264.50" y1="170.89" x2="279.67" y2="170.89" stroke="#4f98d5" stroke-width="1.1"/>
<line x1="272.51" y1="169.50" x2="272.51" y2="172.27" stroke="#4f98d5" stroke-width="1.1"/>
<polygon points="272.51,173.62 269.76,169.22 275.26,169.22" fill="#1f6fb8"/>
<line x1="279.67" y1="178.68" x2="299.22" y2="178.68" stroke="#4f98d5" stroke-width="1.1"/>
<line x1="290.15" y1="174.58" x2="290.15" y2="182.78" stroke="#4f98d5" stroke-width="1.1"/>
<polygon points="290.15,181.41 287.40,177.01 292.90,177.01" fill="#1f6fb8"/>
<line x1="299.22" y1="159.18" x2="326.50" y2="159.18" stroke="#4f98d5" stroke-width="1.1"/>
<line x1="314.39" y1="137.74" x2="314.39" y2="180.61" stroke="#4f98d5" stroke-width="1.1"/>
<polygon points="314.39,161.91 311.64,157.51 317.14,157.51" fill="#1f6fb8"/>
</g>
<line x1="48.50" y1="147.50" x2="56.50" y2="147.50" stroke="#555555" stroke-width="1.0"/>
<line x1="318.50" y1="147.50" x2="326.50" y2="147.50" stroke="#555555" stroke-width="1.0"/>
<line x1="48.50" y1="140.50" x2="52.50" y2="140.50" stroke="#555555" stroke-width="1.0"/>
<line x1="322.50" y1="140.50" x2="326.50" y2="140.50" stroke="#555555" stroke-width="1.0"/>
<line x1="48.50" y1="133.50" x2="52.50" y2="133.50" stroke="#555555" stroke-width="1.0"/>
<line x1="322.50" y1="133.50" x2="326.50" y2="133.50" stroke="#555555" stroke-width="1.0"/>
<line x1="48.50" y1="126.50" x2="52.50" y2="126.50" stroke="#555555" stroke-width="1.0"/>
<line x1="322.50" y1="126.50" x2="326.50" y2="126.50" stroke="#555555" stroke-width="1.0"/>
<line x1="48.50" y1="119.50" x2="56.50" y2="119.50" stroke="#555555" stroke-width="1.0"/>
<line x1="318.50" y1="119.50" x2="326.50" y2="119.50" stroke="#555555" stroke-width="1.0"/>
<line x1="48.50" y1="112.50" x2="52.50" y2="112.50" stroke="#555555" stroke-width="1.0"/>
<line x1="322.50" y1="112.50" x2="326.50" y2="112.50" stroke="#555555" stroke-width="1.0"/>
<line x1="48.50" y1="105.50" x2="52.50" y2="105.50" stroke="#555555" stroke-width="1.0"/>
<line x1="322.50" y1="105.50" x2="326.50" y2="105.50" stroke="#555555" stroke-width="1.0"/>
<line x1="48.50" y1="98.50" x2="52.50" y2="98.50" stroke="#555555" stroke-width="1.0"/>
<line x1="322.50" y1="98.50" x2="326.50" y2="98.50" stroke="#555555" stroke-width="1.0"/>
<line x1="48.50" y1="91.50" x2="56.50" y2="91.50" stroke="#555555" stroke-width="1.0"/>
<line x1="318.50" y1="91.50" x2="326.50" y2="91.50" stroke="#555555" stroke-width="1.0"/>
<line x1="48.50" y1="84.50" x2="52.50" y2="84.50" stroke="#555555" stroke-width="1.0"/>
<line x1="322.50" y1="84.50" x2="326.50" y2="84.50" stroke="#555555" stroke-width="1.0"/>
<line x1="48.50" y1="77.50" x2="52.50" y2="77.50" stroke="#555555" stroke-width="1.0"/>
<line x1="322.50" y1="77.50" x2="326.50" y2="77.50" stroke="#555555" stroke-width="1.0"/>
<line x1="48.50" y1="70.50" x2="52.50" y2="70.50" stroke="#555555" stroke-width="1.0"/>
<line x1="322.50" y1="70.50" x2="326.50" y2="70.50" stroke="#555555" stroke-width="1.0"/>
<line x1="48.50" y1="63.50" x2="56.50" y2="63.50" stroke="#555555" stroke-width="1.0"/>
<line x1="318.50" y1="63.50" x2="326.50" y2="63.50" stroke="#555555" stroke-width="1.0"/>
<line x1="48.50" y1="56.50" x2="52.50" y2="56.50" stroke="#555555" stroke-width="1.0"/>
<line x1="322.50" y1="56.50" x2="326.50" y2="56.50" stroke="#555555" stroke-width="1.0"/>
<line x1="48.50" y1="49.50" x2="52.50" y2="49.50" stroke="#555555" stroke-width="1.0"/>
<line x1="322.50" y1="49.50" x2="326.50" y2="49.50" stroke="#555555" stroke-width="1.0"/>
<line x1="48.50" y1="42.50" x2="52.50" y2="42.50" stroke="#555555" stroke-width="1.0"/>
<line x1="322.50" y1="42.50" x2="326.50" y2="42.50" stroke="#555555" stroke-width="1.0"/>
<line x1="48.50" y1="35.50" x2="56.50" y2="35.50" stroke="#555555" stroke-width="1.0"/>
<line x1="318.50" y1="35.50" x2="326.50" y2="35.50" stroke="#555555" stroke-width="1.0"/>
<line x1="48.50" y1="28.50" x2="52.50" y2="28.50" stroke="#555555" stroke-width="1.0"/>
<line x1="322.50" y1="28.50" x2="326.50" y2="28.50" stroke="#555555" stroke-width="1.0"/>
<line x1="48.50" y1="21.50" x2="52.50" y2="21.50" stroke="#555555" stroke-width="1.0"/>
<line x1="322.50" y1="21.50" x2="326.50" y2="21.50" stroke="#555555" stroke-width="1.0"/>
<line x1="48.50" y1="14.50" x2="52.50" y2="14.50" stroke="#555555" stroke-width="1.0"/>
<line x1="322.50" y1="14.50" x2="326.50" y2="14.50" stroke="#555555" stroke-width="1.0"/>
<line x1="48.50" y1="7.50" x2="56.50" y2="7.50" stroke="#555555" stroke-width="1.0"/>
<line x1="318.50" y1="7.50" x2="326.50" y2="7.50" stroke="#555555" stroke-width="1.0"/>
<line x1="95.61" y1="7.50" x2="95.61" y2="14.00" stroke="#555555" stroke-width="1.0"/>
<line x1="95.61" y1="140.70" x2="95.61" y2="147.50" stroke="#555555" stroke-width="1.0"/>
<line x1="95.61" y1="147.10" x2="95.61" y2="153.70" stroke="#555555" stroke-width="1.0"/>
<line x1="95.61" y1="186.80" x2="95.61" y2="193.20" stroke="#555555" stroke-width="1.0"/>
<line x1="142.72" y1="7.50" x2="142.72" y2="14.00" stroke="#555555" stroke-width="1.0"/>
<line x1="142.72" y1="140.70" x2="142.72" y2="147.50" stroke="#555555" stroke-width="1.0"/>
<line x1="142.72" y1="147.10" x2="142.72" y2="153.70" stroke="#555555" stroke-width="1.0"/>
<line x1="142.72" y1="186.80" x2="142.72" y2="193.20" stroke="#555555" stroke-width="1.0"/>
<line x1="170.28" y1="7.50" x2="170.28" y2="14.00" stroke="#555555" stroke-width="1.0"/>
<line x1="170.28" y1="140.70" x2="170.28" y2="147.50" stroke="#555555" stroke-width="1.0"/>
<line x1="170.28" y1="147.10" x2="170.28" y2="153.70" stroke="#555555" stroke-width="1.0"/>
<line x1="170.28" y1="186.80" x2="170.28" y2="193.20" stroke="#555555" stroke-width="1.0"/>
<line x1="189.83" y1="7.50" x2="189.83" y2="14.00" stroke="#555555" stroke-width="1.0"/>
<line x1="189.83" y1="140.70" x2="189.83" y2="147.50" stroke="#555555" stroke-width="1.0"/>
<line x1="189.83" y1="147.10" x2="189.83" y2="153.70" stroke="#555555" stroke-width="1.0"/>
<line x1="189.83" y1="186.80" x2="189.83" y2="193.20" stroke="#555555" stroke-width="1.0"/>
<line x1="205.00" y1="7.50" x2="205.00" y2="14.00" stroke="#555555" stroke-width="1.0"/>
<line x1="205.00" y1="140.70" x2="205.00" y2="147.50" stroke="#555555" stroke-width="1.0"/>
<line x1="205.00" y1="147.10" x2="205.00" y2="153.70" stroke="#555555" stroke-width="1.0"/>
<line x1="205.00" y1="186.80" x2="205.00" y2="193.20" stroke="#555555" stroke-width="1.0"/>
<line x1="217.39" y1="7.50" x2="217.39" y2="14.00" stroke="#555555" stroke-width="1.0"/>
<line x1="217.39" y1="140.70" x2="217.39" y2="147.50" stroke="#555555" stroke-width="1.0"/>
<line x1="217.39" y1="147.10" x2="217.39" y2="153.70" stroke="#555555" stroke-width="1.0"/>
<line x1="217.39" y1="186.80" x2="217.39" y2="193.20" stroke="#555555" stroke-width="1.0"/>
<line x1="227.87" y1="7.50" x2="227.87" y2="14.00" stroke="#555555" stroke-width="1.0"/>
<line x1="227.87" y1="140.70" x2="227.87" y2="147.50" stroke="#555555" stroke-width="1.0"/>
<line x1="227.87" y1="147.10" x2="227.87" y2="153.70" stroke="#555555" stroke-width="1.0"/>
<line x1="227.87" y1="186.80" x2="227.87" y2="193.20" stroke="#555555" stroke-width="1.0"/>
<line x1="252.11" y1="7.50" x2="252.11" y2="14.00" stroke="#555555" stroke-width="1.0"/>
<line x1="252.11" y1="140.70" x2="252.11" y2="147.50" stroke="#555555" stroke-width="1.0"/>
<line x1="252.11" y1="147.10" x2="252.11" y2="153.70" stroke="#555555" stroke-width="1.0"/>
<line x1="252.11" y1="186.80" x2="252.11" y2="193.20" stroke="#555555" stroke-width="1.0"/>
<line x1="299.22" y1="7.50" x2="299.22" y2="14.00" stroke="#555555" stroke-width="1.0"/>
<line x1="299.22" y1="140.70" x2="299.22" y2="147.50" stroke="#555555" stroke-width="1.0"/>
<line x1="299.22" y1="147.10" x2="299.22" y2="153.70" stroke="#555555" stroke-width="1.0"/>
<line x1="299.22" y1="186.80" x2="299.22" y2="193.20" stroke="#555555" stroke-width="1.0"/>
<line x1="60.89" y1="7.50" x2="60.89" y2="10.70" stroke="#555555" stroke-width="1.0"/>
<line x1="60.89" y1="143.90" x2="60.89" y2="147.50" stroke="#555555" stroke-width="1.0"/>
<line x1="60.89" y1="147.10" x2="60.89" y2="150.50" stroke="#555555" stroke-width="1.0"/>
<line x1="60.89" y1="190.00" x2="60.89" y2="193.20" stroke="#555555" stroke-width="1.0"/>
<line x1="71.37" y1="7.50" x2="71.37" y2="10.70" stroke="#555555" stroke-width="1.0"/>
<line x1="71.37" y1="143.90" x2="71.37" y2="147.50" stroke="#555555" stroke-width="1.0"/>
<line x1="71.37" y1="147.10" x2="71.37" y2="150.50" stroke="#555555" stroke-width="1.0"/>
<line x1="71.37" y1="190.00" x2="71.37" y2="193.20" stroke="#555555" stroke-width="1.0"/>
<line x1="80.44" y1="7.50" x2="80.44" y2="10.70" stroke="#555555" stroke-width="1.0"/>
<line x1="80.44" y1="143.90" x2="80.44" y2="147.50" stroke="#555555" stroke-width="1.0"/>
<line x1="80.44" y1="147.10" x2="80.44" y2="150.50" stroke="#555555" stroke-width="1.0"/>
<line x1="80.44" y1="190.00" x2="80.44" y2="193.20" stroke="#555555" stroke-width="1.0"/>
<line x1="88.45" y1="7.50" x2="88.45" y2="10.70" stroke="#555555" stroke-width="1.0"/>
<line x1="88.45" y1="143.90" x2="88.45" y2="147.50" stroke="#555555" stroke-width="1.0"/>
<line x1="88.45" y1="147.10" x2="88.45" y2="150.50" stroke="#555555" stroke-width="1.0"/>
<line x1="88.45" y1="190.00" x2="88.45" y2="193.20" stroke="#555555" stroke-width="1.0"/>
<line x1="236.94" y1="7.50" x2="236.94" y2="10.70" stroke="#555555" stroke-width="1.0"/>
<line x1="236.94" y1="143.90" x2="236.94" y2="147.50" stroke="#555555" stroke-width="1.0"/>
<line x1="236.94" y1="147.10" x2="236.94" y2="150.50" stroke="#555555" stroke-width="1.0"/>
<line x1="236.94" y1="190.00" x2="236.94" y2="193.20" stroke="#555555" stroke-width="1.0"/>
<line x1="244.95" y1="7.50" x2="244.95" y2="10.70" stroke="#555555" stroke-width="1.0"/>
<line x1="244.95" y1="143.90" x2="244.95" y2="147.50" stroke="#555555" stroke-width="1.0"/>
<line x1="244.95" y1="147.10" x2="244.95" y2="150.50" stroke="#555555" stroke-width="1.0"/>
<line x1="244.95" y1="190.00" x2="244.95" y2="193.20" stroke="#555555" stroke-width="1.0"/>
<line x1="48.50" y1="193.20" x2="56.50" y2="193.20" stroke="#555555" stroke-width="1.0"/>
<line x1="318.50" y1="193.20" x2="326.50" y2="193.20" stroke="#555555" stroke-width="1.0"/>
<line x1="48.50" y1="190.32" x2="52.50" y2="190.32" stroke="#555555" stroke-width="1.0"/>
<line x1="322.50" y1="190.32" x2="326.50" y2="190.32" stroke="#555555" stroke-width="1.0"/>
<line x1="48.50" y1="187.44" x2="52.50" y2="187.44" stroke="#555555" stroke-width="1.0"/>
<line x1="322.50" y1="187.44" x2="326.50" y2="187.44" stroke="#555555" stroke-width="1.0"/>
<line x1="48.50" y1="184.56" x2="52.50" y2="184.56" stroke="#555555" stroke-width="1.0"/>
<line x1="322.50" y1="184.56" x2="326.50" y2="184.56" stroke="#555555" stroke-width="1.0"/>
<line x1="48.50" y1="181.68" x2="56.50" y2="181.68" stroke="#555555" stroke-width="1.0"/>
<line x1="318.50" y1="181.68" x2="326.50" y2="181.68" stroke="#555555" stroke-width="1.0"/>
<line x1="48.50" y1="178.79" x2="52.50" y2="178.79" stroke="#555555" stroke-width="1.0"/>
<line x1="322.50" y1="178.79" x2="326.50" y2="178.79" stroke="#555555" stroke-width="1.0"/>
<line x1="48.50" y1="175.91" x2="52.50" y2="175.91" stroke="#555555" stroke-width="1.0"/>
<line x1="322.50" y1="175.91" x2="326.50" y2="175.91" stroke="#555555" stroke-width="1.0"/>
<line x1="48.50" y1="173.03" x2="52.50" y2="173.03" stroke="#555555" stroke-width="1.0"/>
<line x1="322.50" y1="173.03" x2="326.50" y2="173.03" stroke="#555555" stroke-width="1.0"/>
<line x1="48.50" y1="170.15" x2="56.50" y2="170.15" stroke="#555555" stroke-width="1.0"/>
<line x1="318.50" y1="170.15" x2="326.50" y2="170.15" stroke="#555555" stroke-width="1.0"/>
<line x1="48.50" y1="167.27" x2="52.50" y2="167.27" stroke="#555555" stroke-width="1.0"/>
<line x1="322.50" y1="167.27" x2="326.50" y2="167.27" stroke="#555555" stroke-width="1.0"/>
<line x1="48.50" y1="164.39" x2="52.50" y2="164.39" stroke="#555555" stroke-width="1.0"/>
<line x1="322.50" y1="164.39" x2="326.50" y2="164.39" stroke="#555555" stroke-width="1.0"/>
<line x1="48.50" y1="161.51" x2="52.50" y2="161.51" stroke="#555555" stroke-width="1.0"/>
<line x1="322.50" y1="161.51" x2="326.50" y2="161.51" stroke="#555555" stroke-width="1.0"/>
<line x1="48.50" y1="158.62" x2="56.50" y2="158.62" stroke="#555555" stroke-width="1.0"/>
<line x1="318.50" y1="158.62" x2="326.50" y2="158.62" stroke="#555555" stroke-width="1.0"/>
<line x1="48.50" y1="155.74" x2="52.50" y2="155.74" stroke="#555555" stroke-width="1.0"/>
<line x1="322.50" y1="155.74" x2="326.50" y2="155.74" stroke="#555555" stroke-width="1.0"/>
<line x1="48.50" y1="152.86" x2="52.50" y2="152.86" stroke="#555555" stroke-width="1.0"/>
<line x1="322.50" y1="152.86" x2="326.50" y2="152.86" stroke="#555555" stroke-width="1.0"/>
<line x1="48.50" y1="149.98" x2="52.50" y2="149.98" stroke="#555555" stroke-width="1.0"/>
<line x1="322.50" y1="149.98" x2="326.50" y2="149.98" stroke="#555555" stroke-width="1.0"/>
<line x1="48.50" y1="147.10" x2="56.50" y2="147.10" stroke="#555555" stroke-width="1.0"/>
<line x1="318.50" y1="147.10" x2="326.50" y2="147.10" stroke="#555555" stroke-width="1.0"/>
<polyline points="48.5,147.5 48.5,7.5 326.5,7.5 326.5,147.5" fill="none" stroke="#555555" stroke-width="1"/>
<line x1="48.50" y1="147.50" x2="326.50" y2="147.50" stroke="#808080" stroke-width="1.0"/>
<polyline points="48.5,147.5 48.5,193.2 326.5,193.2 326.5,147.5" fill="none" stroke="#555555" stroke-width="1"/>
<text x="46.0" y="150.10" font-family="Liberation Sans, sans-serif" font-size="10.1" text-anchor="end" fill="#151515" stroke="#151515" stroke-width="0.1">0.0</text>
<text x="46.0" y="122.10" font-family="Liberation Sans, sans-serif" font-size="10.1" text-anchor="end" fill="#151515" stroke="#151515" stroke-width="0.1">0.2</text>
<text x="46.0" y="94.10" font-family="Liberation Sans, sans-serif" font-size="10.1" text-anchor="end" fill="#151515" stroke="#151515" stroke-width="0.1">0.4</text>
<text x="46.0" y="66.10" font-family="Liberation Sans, sans-serif" font-size="10.1" text-anchor="end" fill="#151515" stroke="#151515" stroke-width="0.1">0.6</text>
<text x="46.0" y="38.10" font-family="Liberation Sans, sans-serif" font-size="10.1" text-anchor="end" fill="#151515" stroke="#151515" stroke-width="0.1">0.8</text>
<text x="46.0" y="10.10" font-family="Liberation Sans, sans-serif" font-size="10.1" text-anchor="end" fill="#151515" stroke="#151515" stroke-width="0.1">1.0</text>
<text x="45.5" y="161.12" font-family="Liberation Sans, sans-serif" font-size="9.9" text-anchor="end" fill="#151515" stroke="#151515" stroke-width="0.1">1.25</text>
<text x="45.5" y="172.65" font-family="Liberation Sans, sans-serif" font-size="9.9" text-anchor="end" fill="#151515" stroke="#151515" stroke-width="0.1">1.00</text>
<text x="45.5" y="184.18" font-family="Liberation Sans, sans-serif" font-size="9.9" text-anchor="end" fill="#151515" stroke="#151515" stroke-width="0.1">0.75</text>
<text x="45.5" y="195.70" font-family="Liberation Sans, sans-serif" font-size="9.9" text-anchor="end" fill="#151515" stroke="#151515" stroke-width="0.1">0.50</text>
<text x="48.50" y="203.7" font-family="Liberation Sans, sans-serif" font-size="10.7" text-anchor="middle" fill="#151515" stroke="#151515" stroke-width="0.1">0.5</text>
<text x="95.61" y="203.7" font-family="Liberation Sans, sans-serif" font-size="10.7" text-anchor="middle" fill="#151515" stroke="#151515" stroke-width="0.1">1</text>
<text x="142.72" y="203.7" font-family="Liberation Sans, sans-serif" font-size="10.7" text-anchor="middle" fill="#151515" stroke="#151515" stroke-width="0.1">2</text>
<text x="170.28" y="203.7" font-family="Liberation Sans, sans-serif" font-size="10.7" text-anchor="middle" fill="#151515" stroke="#151515" stroke-width="0.1">3</text>
<text x="189.83" y="203.7" font-family="Liberation Sans, sans-serif" font-size="10.7" text-anchor="middle" fill="#151515" stroke="#151515" stroke-width="0.1">4</text>
<text x="205.00" y="203.7" font-family="Liberation Sans, sans-serif" font-size="10.7" text-anchor="middle" fill="#151515" stroke="#151515" stroke-width="0.1">5</text>
<text x="217.39" y="203.7" font-family="Liberation Sans, sans-serif" font-size="10.7" text-anchor="middle" fill="#151515" stroke="#151515" stroke-width="0.1">6</text>
<text x="227.87" y="203.7" font-family="Liberation Sans, sans-serif" font-size="10.7" text-anchor="middle" fill="#151515" stroke="#151515" stroke-width="0.1">7</text>
<text x="252.11" y="203.7" font-family="Liberation Sans, sans-serif" font-size="10.7" text-anchor="middle" fill="#151515" stroke="#151515" stroke-width="0.1">10</text>
<text x="299.22" y="203.7" font-family="Liberation Sans, sans-serif" font-size="10.7" text-anchor="middle" fill="#151515" stroke="#151515" stroke-width="0.1">20</text>
<text x="326.78" y="203.7" font-family="Liberation Sans, sans-serif" font-size="10.7" text-anchor="middle" fill="#151515" stroke="#151515" stroke-width="0.1">30</text>
<text x="328.0" y="221.0" font-family="Liberation Sans, sans-serif" font-size="11.4" text-anchor="end" fill="#151515" stroke="#151515" stroke-width="0.1"><tspan font-style="italic">p</tspan> [GeV]</text>
<text transform="translate(58.1,22.9) scale(1.08,1)" font-family="Liberation Sans, sans-serif" font-size="9.45" font-weight="bold" font-style="italic" fill="#000" stroke="#000" stroke-width="0.1">ATLAS</text>
<text x="58.2" y="35.6" font-family="Liberation Sans, sans-serif" font-size="10.1" fill="#151515" stroke="#151515" stroke-width="0.1">L = 0.1 nb</text>
<text x="101.5" y="31.2" font-family="Liberation Sans, sans-serif" font-size="7.6" fill="#151515" stroke="#151515" stroke-width="0.1">&#8722;1</text>
<text x="111.3" y="35.6" font-family="Liberation Sans, sans-serif" font-size="10.1" fill="#151515" stroke="#151515" stroke-width="0.1">, 8 TeV</text>
<line x1="58.70" y1="38.90" x2="58.70" y2="48.40" stroke="#7a7a7a" stroke-width="0.75"/>
<text x="59.4" y="46.4" font-family="Liberation Serif, serif" font-style="italic" font-size="10" fill="#555" stroke="#555" stroke-width="0.1">&#951;</text>
<line x1="66.00" y1="38.90" x2="66.00" y2="48.40" stroke="#7a7a7a" stroke-width="0.75"/>
<polyline points="77.60,40.60 71.60,43.30 77.60,46.00" fill="none" stroke="#666" stroke-width="0.8" stroke-linejoin="miter"/>
<text x="81.2" y="46.5" font-family="Liberation Sans, sans-serif" font-size="10.1" fill="#151515" stroke="#151515" stroke-width="0.1">0.6</text>
<line x1="58.70" y1="50.20" x2="58.70" y2="59.90" stroke="#7a7a7a" stroke-width="0.75"/>
<text x="59.9" y="58.0" font-family="Liberation Sans, sans-serif" font-style="italic" font-size="10.1" fill="#1a1a1a" stroke="#1a1a1a" stroke-width="0.1">E</text>
<line x1="68.30" y1="50.20" x2="68.30" y2="59.90" stroke="#7a7a7a" stroke-width="0.75"/>
<polyline points="73.40,52.00 79.20,54.60 73.40,57.20" fill="none" stroke="#666" stroke-width="0.8" stroke-linejoin="miter"/>
<text x="82.9" y="57.6" font-family="Liberation Sans, sans-serif" font-size="10.1" fill="#151515" stroke="#151515" stroke-width="0.1">0</text>
<line x1="222.20" y1="119.70" x2="232.20" y2="119.70" stroke="#4f98d5" stroke-width="1.1"/>
<line x1="227.20" y1="115.10" x2="227.20" y2="124.30" stroke="#4f98d5" stroke-width="1.1"/>
<polygon points="227.20,122.43 224.45,118.03 229.95,118.03" fill="#1f6fb8"/>
<line x1="222.20" y1="132.80" x2="232.20" y2="132.80" stroke="#262626" stroke-width="1.0"/>
<line x1="227.20" y1="128.20" x2="227.20" y2="137.40" stroke="#262626" stroke-width="1.0"/>
<polygon points="227.20,130.07 224.45,134.47 229.95,134.47" fill="#000"/>
<text x="245.7" y="123.1" font-family="Liberation Sans, sans-serif" font-size="9.8" fill="#151515" stroke="#151515" stroke-width="0.1">30</text>
<path d="M258.6,116.7 Q256.0,121.1 258.6,125.5" fill="none" stroke="#555" stroke-width="0.9"/>
<text x="260.2" y="123.2" font-family="Liberation Serif, serif" font-style="italic" font-size="10.6" fill="#333" stroke="#333" stroke-width="0.1">&#956;</text>
<path d="M266.9,116.7 Q269.7,121.1 266.9,125.5" fill="none" stroke="#555" stroke-width="0.9"/>
<text x="273.5" y="123.1" font-family="Liberation Sans, sans-serif" font-size="9.8" fill="#151515" stroke="#151515" stroke-width="0.1">Threshold</text>
<text x="245.9" y="136.2" font-family="Liberation Sans, sans-serif" font-size="9.8" fill="#151515" stroke="#151515" stroke-width="0.1">Nominal</text>
<polyline points="1.60,50.00 7.00,52.60 12.60,50.10" fill="none" stroke="#444" stroke-width="0.9" stroke-linejoin="miter"/>
<text transform="translate(10.10,47.90) rotate(-90)" font-family="Liberation Sans, sans-serif" font-size="11.0" text-anchor="start" fill="#111" font-style="italic" stroke="#111" stroke-width="0.1">E</text>
<line x1="2.30" y1="35.90" x2="12.40" y2="39.70" stroke="#222" stroke-width="0.9"/>
<text transform="translate(10.40,35.30) rotate(-90)" font-family="Liberation Sans, sans-serif" font-size="11.2" text-anchor="start" fill="#111" font-style="italic" stroke="#111" stroke-width="0.1">p</text>
<polyline points="1.60,27.70 7.00,25.10 12.60,27.70" fill="none" stroke="#444" stroke-width="0.9" stroke-linejoin="miter"/>
<text transform="translate(12.30,5.50) rotate(-90)" font-family="Liberation Sans, sans-serif" font-size="8.6" text-anchor="end" fill="#111"  stroke="#111" stroke-width="0.1">COR</text>
<polyline points="3.10,209.50 8.80,212.60 14.50,209.50" fill="none" stroke="#444" stroke-width="0.9" stroke-linejoin="miter"/>
<text transform="translate(10.8,209.0) rotate(-90)" font-family="Liberation Serif, serif" font-style="italic" font-size="11" fill="#333" stroke="#333" stroke-width="0.1">&#956;</text>
<polyline points="3.10,202.00 8.80,198.70 14.50,202.00" fill="none" stroke="#444" stroke-width="0.9" stroke-linejoin="miter"/>
<line x1="7.60" y1="188.80" x2="7.60" y2="194.60" stroke="#222" stroke-width="0.9"/>
<line x1="9.70" y1="188.80" x2="9.70" y2="194.60" stroke="#222" stroke-width="0.9"/>
<text transform="translate(11.4,185.6) rotate(-90) scale(1.07,1)" font-family="Liberation Sans, sans-serif" font-size="11.3" fill="#111" stroke="#111" stroke-width="0.1">30/Nom</text>
</g>
<text x="171" y="241.6" font-family="Liberation Serif, serif" font-weight="bold" font-size="13.8" text-anchor="middle" fill="#000" stroke="#000" stroke-width="0.1">(a)</text>
<text x="522.8" y="241.6" font-family="Liberation Serif, serif" font-weight="bold" font-size="13.8" text-anchor="middle" fill="#000" stroke="#000" stroke-width="0.1">(b)</text>
</svg>
</body></html>
